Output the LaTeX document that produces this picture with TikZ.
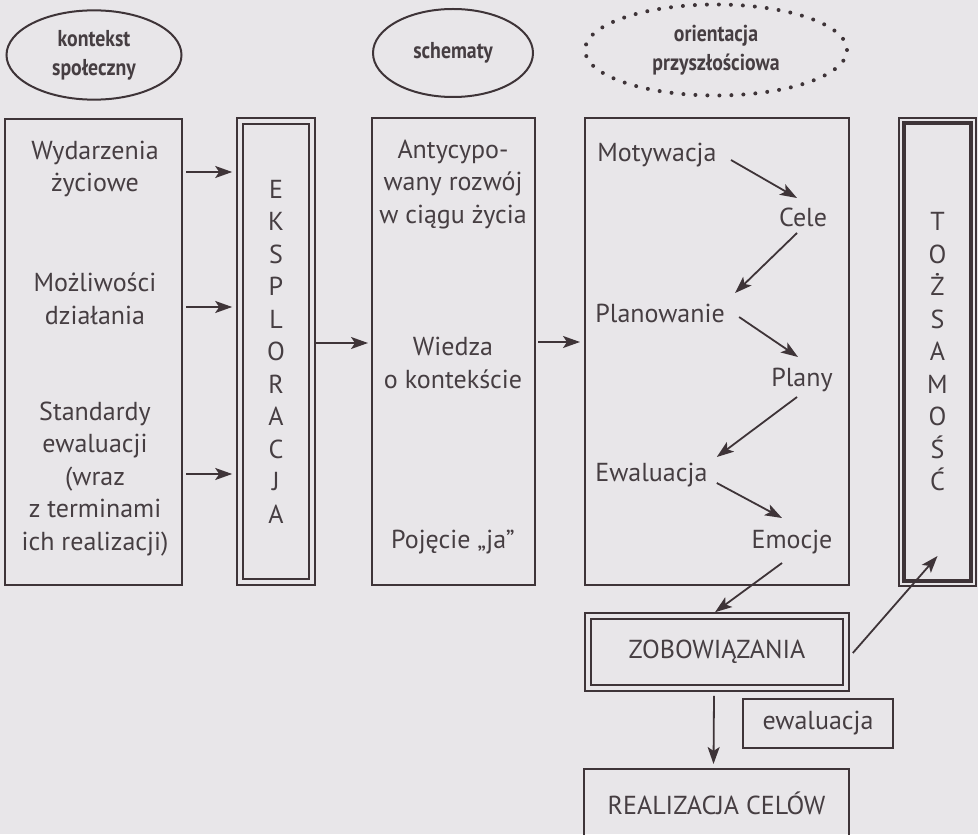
\documentclass[tikz,border=0pt]{standalone}
\usepackage{fontspec}
\setmainfont{PT Sans}
\newfontfamily\headfont{PT Sans}[FakeStretch=0.86]
\usetikzlibrary{shapes.geometric,arrows.meta,calc}
\definecolor{PaperGray}{RGB}{232,230,233}
\definecolor{InkDark}{RGB}{62,52,56}
\definecolor{InkText}{RGB}{70,62,66}

\begin{document}
\begin{tikzpicture}[x=0.5pt,y=-0.5pt,
    boxframe/.style={draw=InkDark,line width=1pt,inner sep=0pt},
    dbl/.style={double=PaperGray,double distance=2.3pt,line width=0.8pt},
    txt/.style={text=InkText,font=\fontsize{13}{16.25}\selectfont,align=center,inner sep=0pt},
    oval/.style={ellipse,draw=InkDark,line width=1pt,text=InkText,align=center,
                 font=\headfont\bfseries\fontsize{11.5}{14.5}\selectfont},
    arr/.style={draw=InkDark,line width=0.9pt,-{Stealth[length=8.5pt,width=6pt,inset=2pt]}}]

  \fill[PaperGray] (0,0) rectangle (978,834);
  \useasboundingbox (0,0) rectangle (978,834);

  % headings
  \node[oval,minimum width=87.5pt,minimum height=43pt] (ctx) at (94,55) {kontekst\\społeczny};
  \node[oval,minimum width=80pt,minimum height=44pt] (schem) at (453,53) {schematy};
  \node[oval,draw=InkDark,line width=2pt,dash pattern=on 0pt off 6pt,line cap=round,
        minimum width=131pt,minimum height=45.5pt] (orient) at (716,50) {orientacja\\przyszłościowa};

  % columns
  \node[boxframe,minimum width=88.5pt,minimum height=233pt] (ctxbox) at (93.5,352) {};
  \node[boxframe,dbl,txt,minimum width=36pt,minimum height=230.5pt] (ekspl) at (276,351.5)
       {E\\K\\S\\P\\L\\O\\R\\A\\C\\J\\A};
  \node[boxframe,minimum width=81.5pt,minimum height=233.5pt] (schbox) at (453.5,351.5) {};
  \node[boxframe,minimum width=132pt,minimum height=233.5pt] (orbox) at (717,351.5) {};
  \node[boxframe,txt,minimum width=38.5pt,minimum height=234pt] (tozs) at (937.5,352)
       {T\\O\\Ż\\S\\A\\M\\O\\Ś\\Ć};
  \draw[InkDark,line width=1.7pt] ($(tozs.north west)+(6,6)$) rectangle ($(tozs.south east)+(-6,-6)$);

  \node[txt] (wyd) at (95,169) {Wydarzenia\\życiowe};
  \node[txt] (mozl) at (95,299) {Możliwości\\działania};
  \node[txt] (std) at (95,479) {Standardy\\ewaluacji\\(wraz\\z terminami\\ich realizacji)};

  \node[txt] (antyc) at (453,184.5) {Antycypo-\\wany rozwój\\w ciągu życia};
  \node[txt] (wiedza) at (453,363) {Wiedza\\o kontekście};
  \node[txt] (pojecie) at (453,542) {Pojęcie „ja”};

  \node[txt,anchor=west] (mot) at (597,155) {Motywacja};
  \node[txt] (cele) at (803,217) {Cele};
  \node[txt,anchor=west] (plan) at (595,313) {Planowanie};
  \node[txt] (plany) at (802,380) {Plany};
  \node[txt,anchor=west] (ewal) at (595,475) {Ewaluacja};
  \node[txt] (emo) at (792,542) {Emocje};

  % bottom part
  \node[boxframe,dbl,txt,minimum width=129pt,minimum height=36pt] (zob) at (717,652) {ZOBOWIĄZANIA};
  \node[boxframe,txt,minimum width=75pt,minimum height=24.5pt] (ewbox) at (818,723.5) {ewaluacja};
  \node[boxframe,txt,minimum width=132.5pt,minimum height=34pt] (real) at (716.5,803) {REALIZACJA CELÓW};

  % arrows
  \draw[arr] ($(ctxbox.east |- wyd)+(3,3)$) -- ($(ekspl.west |- wyd)+(-7,3)$);
  \draw[arr] ($(ctxbox.east |- mozl)+(3,8)$) -- ($(ekspl.west |- mozl)+(-7,8)$);
  \draw[arr] ($(ctxbox.east |- std)+(3,-5)$) -- ($(ekspl.west |- std)+(-7,-5)$);
  \draw[arr] ($(ekspl.east)+(3,-8.5)$) -- ($(schbox.west)+(-3,-8.5)$);
  \draw[arr] ($(schbox.east)+(2,-9.5)$) -- ($(orbox.west)+(-4,-9.5)$);

  \draw[arr] ($(mot.east)+(14,5)$) -- ($(cele)+(-6,-19)$);
  \draw[arr] ($(cele)+(-6,16)$) -- ($(plan.east)+(10,-20)$);
  \draw[arr] ($(plan.east)+(14,4)$) -- ($(plany)+(-4,-23)$);
  \draw[arr] ($(plany)+(-5,17)$) -- ($(ewal.east)+(9,-18)$);
  \draw[arr] ($(ewal.east)+(9,8)$) -- ($(emo)+(-10,-24)$);
  \draw[arr] ($(emo)+(-10,21)$) -- ($(zob.north)+(-2,-3)$);
  \draw[arr] ($(zob.east)+(6,1)$) -- ($(tozs.south)+(0,-31)$);
  \draw[arr] ($(zob.south)+(-3,7)$) -- ($(real.north)+(-3,-4)$);
\end{tikzpicture}
\end{document}
